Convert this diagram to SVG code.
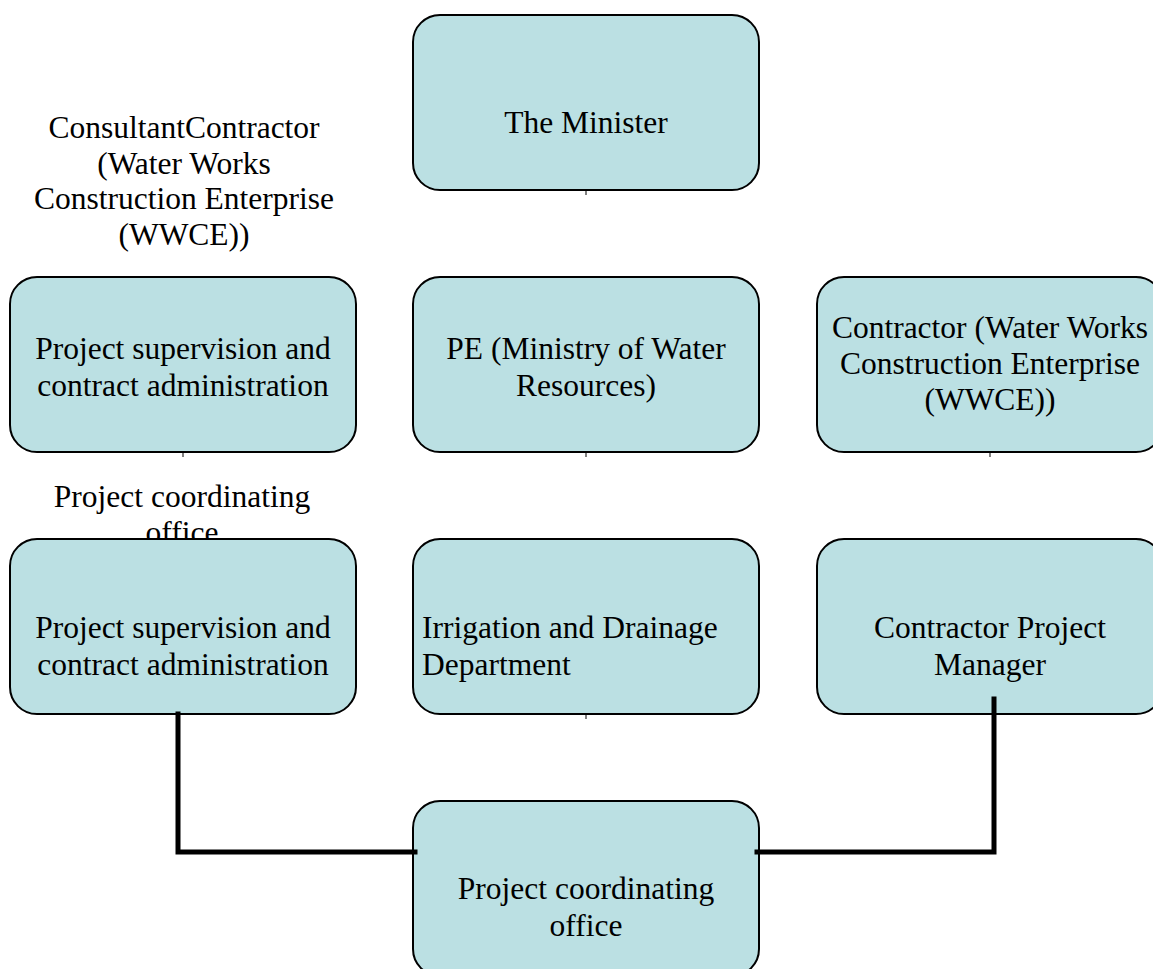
<svg xmlns="http://www.w3.org/2000/svg" width="1153" height="969" viewBox="0 0 1153 969">
<style>
.box{fill:#BBE0E3;stroke:#000;stroke-width:2}
.t{font-family:"Liberation Serif","Times New Roman",serif;font-size:31.5px;fill:#000;text-anchor:middle}
.l{text-anchor:start}
.thick{stroke:#000;stroke-width:5;fill:none;stroke-linecap:square}
.tick{stroke:#000;stroke-width:1;fill:none}
</style>
<rect width="1153" height="969" fill="#fff"/>
<g id="label-consultant">
<text class="t" x="184" y="138">ConsultantContractor</text>
<text class="t" x="184" y="173.5">(Water Works</text>
<text class="t" x="184" y="209">Construction Enterprise</text>
<text class="t" x="184" y="244.5">(WWCE))</text>
</g>
<g id="label-pco">
<text class="t" x="182" y="507">Project coordinating</text>
<text class="t" x="182" y="543">office</text>
</g>
<g id="connectors">
<line class="tick" x1="586" y1="190" x2="586" y2="195"/>
<line class="tick" x1="183" y1="452" x2="183" y2="457"/>
<line class="tick" x1="586" y1="452" x2="586" y2="457"/>
<line class="tick" x1="990" y1="452" x2="990" y2="457"/>
<line class="tick" x1="586" y1="714" x2="586" y2="719"/>
</g>
<g id="minister"><rect class="box" x="413" y="15" width="346" height="175" rx="27"/><text class="t" x="586" y="133">The Minister</text></g>
<g id="consultant-supervision"><rect class="box" x="10" y="277" width="346" height="175" rx="27"/><text class="t" x="183" y="359">Project supervision and</text><text class="t" x="183" y="396">contract administration</text></g>
<g id="pe"><rect class="box" x="413" y="277" width="346" height="175" rx="27"/><text class="t" x="586" y="359">PE (Ministry of Water</text><text class="t" x="586" y="396">Resources)</text></g>
<g id="contractor"><rect class="box" x="817" y="277" width="346" height="175" rx="27"/><text class="t" x="990" y="338">Contractor (Water Works</text><text class="t" x="990" y="374">Construction Enterprise</text><text class="t" x="990" y="410">(WWCE))</text></g>
<g id="pco-supervision"><rect class="box" x="10" y="539" width="346" height="175" rx="27"/><text class="t" x="183" y="638">Project supervision and</text><text class="t" x="183" y="675">contract administration</text></g>
<g id="irrigation"><rect class="box" x="413" y="539" width="346" height="175" rx="27"/><text class="t l" x="422" y="638">Irrigation and Drainage</text><text class="t l" x="422" y="675">Department</text></g>
<g id="contractor-pm"><rect class="box" x="817" y="539" width="346" height="175" rx="27"/><text class="t" x="990" y="638">Contractor Project</text><text class="t" x="990" y="675">Manager</text></g>
<g id="pco"><rect class="box" x="413" y="801" width="346" height="175" rx="27"/><text class="t" x="586" y="899">Project coordinating</text><text class="t" x="586" y="936">office</text></g>
<g id="links">
<polyline class="thick" points="178,714 178,852 415,852"/>
<polyline class="thick" points="994,699 994,852 757,852"/>
</g>
</svg>
